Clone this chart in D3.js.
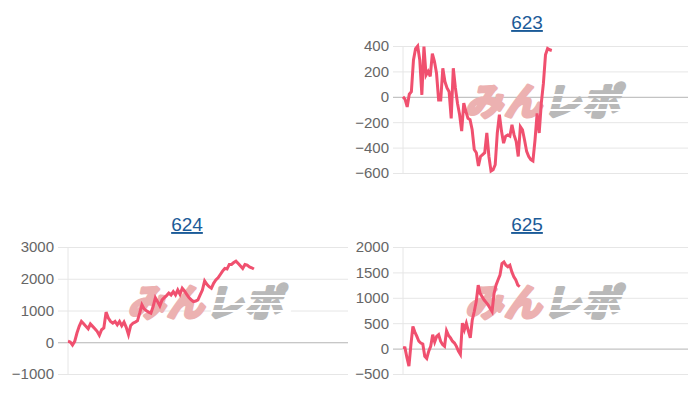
<!DOCTYPE html>
<meta charset="utf-8">
<script src="https://d3js.org/d3.v7.min.js"></script>
<style>
  body { margin: 0; background: #fff; }
  text { font-family: "Liberation Sans", Arial, sans-serif; }
</style>
<body>
<svg id="chart" width="700" height="400"></svg>
<script>
// chart titles
var titles = ["623", "624", "625"];

// y axis ticks for each chart
var ticks623 = [-600, -400, -200, 0, 200, 400];
var ticks624 = [-1000, 0, 1000, 2000, 3000];
var ticks625 = [-500, 0, 500, 1000, 1500, 2000];

// number of x slots on each chart (lines stop part way)
var slots = [136, 125, 144];

// series values
var s623 = [0, -20, -80, 20, 40, 290, 380, 400, 290, 15, 395, 170, 200, 160, 340,
  280, 185, -25, -25, 225, 120, 70, 40, -170, 225, 70, -50, -140, -270, -50,
  -115, -170, -180, -260, -415, -440, -545, -470, -455, -440, -285, -470, -585, -575, -535,
  -285, -140, -270, -365, -310, -300, -310, -220, -300, -350, -470, -235, -260, -340, -430,
  -470, -495, -505, -340, -130, -285, -50, 105, 330, 380, 370, 365];
var s624 = [30, 10, -90, 30, 290, 500, 655, 585, 500, 425, 575, 500, 425, 345, 220,
  395, 450, 950, 760, 655, 600, 655, 550, 655, 520, 635, 470, 240, 530, 600,
  635, 675, 915, 1180, 1050, 990, 950, 915, 1125, 1405, 1280, 1145, 1335, 1405, 1470,
  1550, 1490, 1595, 1490, 1645, 1510, 1700, 1615, 1510, 1405, 1335, 1280, 1300, 1335, 1490,
  1645, 1930, 1825, 1750, 1700, 1855, 1960, 2030, 2135, 2240, 2325, 2305, 2450, 2450, 2510,
  2555, 2480, 2405, 2325, 2450, 2430, 2375, 2345, 2305];
var s625 = [25, 15, -180, -345, 80, 435, 325, 240, 145, 110, 90, -150, -195, -50, 45,
  275, 130, 240, 275, 145, 80, 45, 350, 260, 210, 145, 110, 45, -50, -115,
  500, 370, 500, 350, 210, 565, 730, 925, 1250, 1085, 1020, 955, 910, 860, 795,
  730, 1085, 1250, 1350, 1445, 1675, 1705, 1640, 1610, 1640, 1510, 1415, 1350, 1250, 1220];

// where each small chart sits
var panels = [
  { left: 403, right: 688, top: 46, bottom: 173, tx: 527, ty: 29, ticks: ticks623, values: s623, n: slots[0], title: titles[0] },
  { left: 68, right: 348, top: 247, bottom: 374, tx: 187, ty: 231, ticks: ticks624, values: s624, n: slots[1], title: titles[1] },
  { left: 403, right: 688, top: 247, bottom: 374, tx: 527, ty: 231, ticks: ticks625, values: s625, n: slots[2], title: titles[2] }
];

var svg = d3.select("#chart");

panels.forEach(function (p) {
  var g = svg.append("g");

  var x = d3.scaleLinear().domain([0, p.n]).range([p.left, p.right]);
  var y = d3.scaleLinear()
    .domain(d3.extent(p.ticks))
    .range([p.bottom, p.top]);

  // title, drawn like a link
  g.append("text")
    .attr("x", p.tx)
    .attr("y", p.ty)
    .attr("text-anchor", "middle")
    .style("font-size", "19px")
    .style("fill", "#1b5b98")
    .style("text-decoration", "underline")
    .text(p.title);

  // gridlines + tick labels
  var yAxis = d3.axisLeft(y)
    .tickValues(p.ticks)
    .tickSize(-(p.right - p.left))
    .tickPadding(14)
    .tickFormat(d3.format("d"));

  var ax = g.append("g")
    .attr("transform", "translate(" + p.left + ",0)")
    .call(yAxis);
  ax.select(".domain").remove();
  ax.selectAll(".tick line")
    .attr("x1", -10)
    .attr("stroke", function (d) { return d === 0 ? "#b4b4b4" : "#e6e6e6"; });
  ax.selectAll(".tick text")
    .style("font-size", "15px")
    .style("fill", "#666")
    .style("font-family", "'Liberation Sans', Arial, sans-serif");

  // left border
  g.append("line")
    .attr("x1", p.left).attr("x2", p.left)
    .attr("y1", p.top).attr("y2", p.bottom)
    .attr("stroke", "#e6e6e6");

  // watermark (fake heavy weight with a same-colour stroke)
  var cx = (p.left + p.right) / 2 + 1;
  var cy = p.top + (p.bottom - p.top) * 0.44;
  var wm = g.append("g")
    .attr("transform", "translate(" + cx + "," + cy + ") skewX(-14)");
  var wt = wm.append("text")
    .attr("text-anchor", "middle")
    .attr("y", 13)
    .style("font-family", "'Noto Sans CJK JP', sans-serif")
    .style("font-weight", "bold")
    .style("font-size", "37px")
    .style("letter-spacing", "2px")
    .attr("stroke-width", 3.5)
    .attr("stroke-linejoin", "round");
  wt.append("tspan").attr("fill", "#ecb1b1").attr("stroke", "#ecb1b1").text("みん");
  wt.append("tspan").attr("fill", "#b9b9b9").attr("stroke", "#b9b9b9").text("レポ");
  // speed stripes across the grey half
  [-7, 1, 8].forEach(function (dy) {
    wm.append("line")
      .attr("x1", 4).attr("x2", 84)
      .attr("y1", dy).attr("y2", dy)
      .attr("stroke", "#fff")
      .attr("stroke-width", 2);
  });

  // the series line
  var line = d3.line()
    .x(function (d, i) { return x(i); })
    .y(function (d) { return y(d); });

  g.append("path")
    .datum(p.values)
    .attr("d", line)
    .attr("fill", "none")
    .attr("stroke", "#f0506f")
    .attr("stroke-width", 3)
    .attr("stroke-linejoin", "miter");
});
</script>
</body>
